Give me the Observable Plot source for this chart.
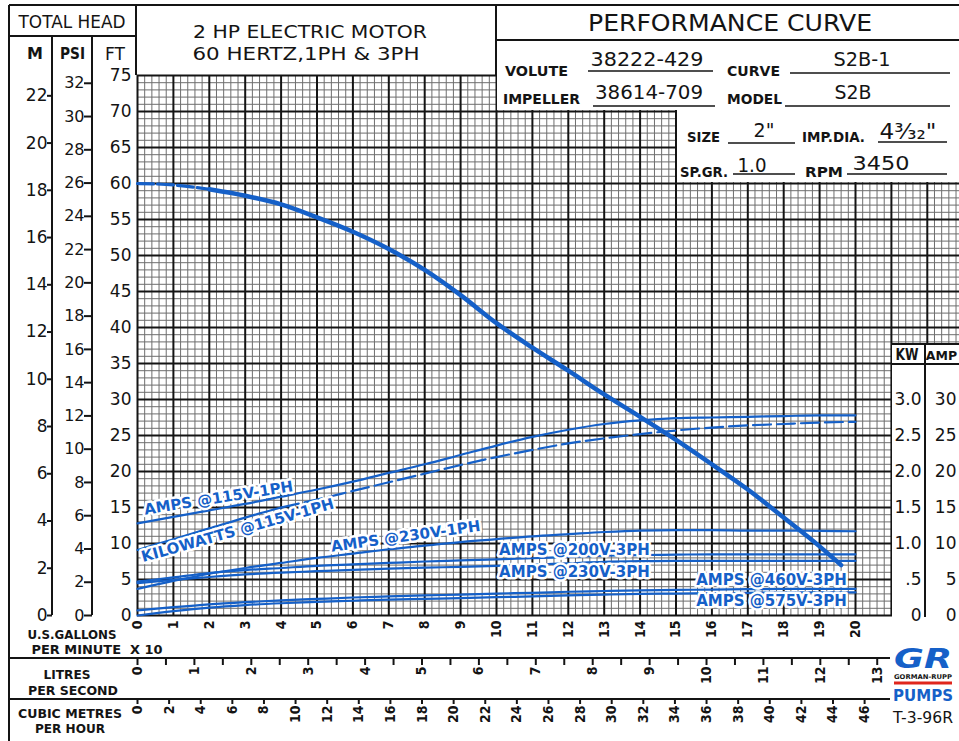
<!DOCTYPE html>
<html><head><meta charset="utf-8">
<script src="https://cdn.jsdelivr.net/npm/d3@7"></script>
<script src="https://cdn.jsdelivr.net/npm/@observablehq/plot@0.6"></script>
<style>
html,body{margin:0;padding:0;background:#fff;}
#chart{width:959px;height:741px;overflow:hidden;}
</style></head><body><div id="chart"></div>
<script>
// ---------------- data ----------------
const gpm = [0,1,2,3,4,5,6,7,8,9,10,11,12,13,14,15,16,17,18,19,20];          // U.S. gal/min x10
const headGpm = [0,1,2,3,4,5,6,7,8,9,10,11,12,13,14,15,16,17,18,19,19.6];
const headFt = [60.0,59.8,59.2,58.3,57.1,55.3,53.3,50.9,48.0,44.5,40.6,37.2,34.0,30.7,27.6,24.4,21.0,17.5,13.6,9.6,7.0];
const amps115_1ph = [12.8,13.7,14.6,15.5,16.5,17.5,18.6,19.8,21.0,22.3,23.6,24.8,25.8,26.6,27.1,27.4,27.5,27.6,27.7,27.8,27.8];
const kw115_1ph = [0.91,1.06,1.21,1.36,1.50,1.61,1.73,1.85,1.97,2.09,2.20,2.30,2.39,2.46,2.52,2.57,2.61,2.64,2.66,2.68,2.69];
const amps230_1ph = [3.7,4.8,5.8,6.6,7.3,8.0,8.6,9.2,9.7,10.2,10.6,11.0,11.3,11.6,11.8,11.85,11.85,11.8,11.8,11.75,11.7];
const amps200_3ph = [4.7,5.3,5.9,6.3,6.6,6.9,7.1,7.3,7.5,7.65,7.8,7.95,8.15,8.3,8.4,8.45,8.5,8.5,8.5,8.5,8.5];
const amps230_3ph = [4.5,4.95,5.35,5.7,5.95,6.15,6.35,6.5,6.65,6.75,6.9,7.05,7.25,7.45,7.55,7.6,7.6,7.6,7.6,7.6,7.6];
const amps460_3ph = [0.7,1.15,1.55,1.85,2.1,2.3,2.5,2.65,2.8,2.9,3.05,3.15,3.3,3.4,3.5,3.55,3.6,3.65,3.7,3.7,3.7];
const amps575_3ph = [0.0,0.6,1.1,1.45,1.7,1.9,2.05,2.2,2.3,2.4,2.55,2.65,2.8,2.9,3.0,3.05,3.1,3.15,3.2,3.2,3.2];

// tick labels
const ftTicks = [0,5,10,15,20,25,30,35,40,45,50,55,60,65,70,75];
const psiTicks = [0,2,4,6,8,10,12,14,16,18,20,22,24,26,28,30,32];
const mTicks = [0,2,4,6,8,10,12,14,16,18,20,22];
const gpmTicks = [0,1,2,3,4,5,6,7,8,9,10,11,12,13,14,15,16,17,18,19,20];
const lpsTicks = [0,0.5,1,1.5,2,2.5,3,3.5,4,4.5,5,5.5,6,6.5,7,7.5,8,8.5,9,9.5,10,10.5,11,11.5,12,12.5,13];
const m3hTicks = [0,2,4,6,8,10,12,14,16,18,20,22,24,26,28,30,32,34,36,38,40,42,44,46];
const kwTicks = [0,0.5,1,1.5,2,2.5,3];
const kwTickLabels = ["0",".5","1.0","1.5","2.0","2.5","3.0"];
const ampTicks = [0,5,10,15,20,25,30];
const curveLabels = ["AMPS @115V-1PH","KILOWATTS @115V-1PH","AMPS @230V-1PH","AMPS @200V-3PH","AMPS @230V-3PH","AMPS @460V-3PH","AMPS @575V-3PH"];

// unit conversions of the secondary scales
const FT_PER_PSI = 2.31, FT_PER_M = 3.2808, X_PER_LPS = 1.585, X_PER_M3H = 0.4403, FT_PER_KW = 10, FT_PER_AMP = 1;

// ---------------- styling / placement ----------------
const FONT = "DejaVu Sans, Liberation Sans, sans-serif";
const COND = "DejaVu Sans Condensed, DejaVu Sans, sans-serif";
const BLUE = "#1560c8";
const INK = "#141414";
const GRID_RIGHT = 22.9;

const labelPlacement = [
  {x: 2.26, y: 16.3, angle: -9},
  {x: 2.79, y: 11.8, angle: -15.7},
  {x: 7.47, y: 10.97, angle: -8},
  {x: 12.17, y: 9.03, angle: 0},
  {x: 12.17, y: 5.97, angle: 0},
  {x: 17.66, y: 4.86, angle: 0},
  {x: 17.66, y: 1.94, angle: 0}
];
const annotations = curveLabels.map((t, i) => ({text: t, ...labelPlacement[i]}));

function rows(xs, ys, k = 1) { return xs.map((x, i) => ({x, y: ys[i] * k})); }
const headRows = rows(headGpm, headFt);
const ampsRows = rows(gpm, amps115_1ph, FT_PER_AMP);
const kwRows = rows(gpm, kw115_1ph, FT_PER_KW);
const lowSeries = [amps230_1ph, amps200_3ph, amps230_3ph, amps460_3ph, amps575_3ph].map(s => rows(gpm, s, FT_PER_AMP));

const minorX = d3.range(0, 115).map(i => +(i * 0.2).toFixed(1)).filter(v => v % 1 !== 0 && v <= GRID_RIGHT);
const minorY = d3.range(0, 76).filter(v => v % 5 !== 0);
const majorX = d3.range(0, 23);
const majorY = d3.range(0, 76, 5);

const lineOpts = {x: "x", y: "y", stroke: BLUE, curve: "monotone-x"};

const chart = Plot.plot({
  width: 959, height: 741,
  marginLeft: 137, marginRight: 104, marginTop: 75, marginBottom: 126,
  x: {domain: [0, 20], label: null},
  y: {domain: [0, 75], label: null},
  style: {fontFamily: FONT, fontSize: "14px", background: "white", color: INK, overflow: "visible"},
  marks: [
    Plot.ruleX(minorX, {y1: 0, y2: 75, stroke: "#6e6e6e", strokeWidth: 1}),
    Plot.ruleY(minorY, {x1: 0, x2: GRID_RIGHT, stroke: "#6e6e6e", strokeWidth: 1}),
    Plot.ruleX(majorX, {y1: 0, y2: 75, stroke: INK, strokeWidth: 2}),
    Plot.ruleY(majorY, {x1: 0, x2: GRID_RIGHT, stroke: INK, strokeWidth: 2}),

    Plot.line(headRows.filter(d => d.x <= 2), {...lineOpts, strokeWidth: 3.2, strokeDasharray: "16,4"}),
    Plot.line(headRows.filter(d => d.x >= 2), {...lineOpts, strokeWidth: 4.5}),
    Plot.line(ampsRows, {...lineOpts, strokeWidth: 2.2}),
    Plot.line(kwRows.filter(d => d.x <= 4), {...lineOpts, strokeWidth: 2.2}),
    Plot.line(kwRows.filter(d => d.x >= 4), {...lineOpts, strokeWidth: 2.2, strokeDasharray: "18,6"}),
    ...lowSeries.map(s => Plot.line(s, {...lineOpts, strokeWidth: 2.2})),

    Plot.text(annotations, {x: "x", y: "y", text: "text", rotate: "angle", fill: BLUE, stroke: "white", strokeWidth: 5,
      paintOrder: "stroke", fontWeight: "bold", fontSize: 15, fontFamily: FONT, textAnchor: "middle", lineAnchor: "middle"}),

    // left scales
    Plot.axisY({ticks: ftTicks, anchor: "left", tickSize: 0, tickPadding: 6, fontSize: 17, label: null, tickFormat: d => String(d)}),
    Plot.axisY({ticks: psiTicks.map(p => p * FT_PER_PSI), tickFormat: d => String(Math.round(d / FT_PER_PSI)),
      anchor: "left", dx: -45, tickSize: 8, tickPadding: 0, strokeWidth: 2, fontSize: 16, label: null}),
    Plot.axisY({ticks: mTicks.map(m => m * FT_PER_M), tickFormat: d => String(Math.round(d / FT_PER_M)),
      anchor: "left", dx: -85, tickSize: 5, tickPadding: 0, strokeWidth: 2, fontSize: 17, label: null}),
    // right scales
    Plot.axisY({ticks: kwTicks.map(k => k * FT_PER_KW), tickFormat: d => kwTickLabels[kwTicks.indexOf(Math.round(d / FT_PER_KW * 2) / 2)],
      anchor: "right", tickSize: 0, tickPadding: 0, dx: 66, textAnchor: "end", fontSize: 17, label: null}),
    Plot.axisY({ticks: ampTicks.map(a => a * FT_PER_AMP), tickFormat: d => String(Math.round(d / FT_PER_AMP)),
      anchor: "right", tickSize: 0, tickPadding: 0, dx: 101, textAnchor: "end", fontSize: 17, label: null}),
    // bottom scales
    Plot.axisX({ticks: gpmTicks, anchor: "bottom", tickSize: 0, tickPadding: 5, tickRotate: -90, textAnchor: "end",
      fontSize: 14, fontWeight: "bold", fontFamily: COND, label: null, tickFormat: d => String(d)}),
    Plot.axisX({ticks: lpsTicks.map(v => v * X_PER_LPS), anchor: "bottom", dy: 43, tickSize: 7, tickPadding: 1, tickRotate: -90,
      textAnchor: "end", strokeWidth: 2, fontSize: 14, fontWeight: "bold", fontFamily: COND, label: null,
      tickFormat: d => { const v = Math.round(d / X_PER_LPS * 2) / 2; return Number.isInteger(v) ? String(v) : ""; }}),
    Plot.axisX({ticks: m3hTicks.map(v => v * X_PER_M3H), anchor: "bottom", dy: 84, tickSize: 5, tickPadding: 1, tickRotate: -90,
      textAnchor: "end", strokeWidth: 2, fontSize: 14, fontWeight: "bold", fontFamily: COND, label: null,
      tickFormat: d => String(Math.round(d / X_PER_M3H))})
  ]
});
document.getElementById("chart").appendChild(chart);

// ---------------- sheet frame & title block ----------------
const NS = "http://www.w3.org/2000/svg";
const firstLine = chart.querySelector('g[aria-label="line"]');
const gEl = document.createElementNS(NS, "g");
if (firstLine) chart.insertBefore(gEl, firstLine); else chart.appendChild(gEl);
const ov = d3.select(gEl);

function box(x, y, w, h) { ov.append("rect").attr("x", x).attr("y", y).attr("width", w).attr("height", h).attr("fill", "white"); }
function ln(x1, y1, x2, y2, w = 2) { ov.append("line").attr("x1", x1).attr("y1", y1).attr("x2", x2).attr("y2", y2).attr("stroke", INK).attr("stroke-width", w); }
function tx(x, y, s, o = {}) {
  const t = ov.append("text").attr("x", x).attr("y", y).text(s)
    .attr("text-anchor", o.anchor || "middle").attr("font-family", o.family || FONT)
    .attr("font-size", o.size || 16).attr("font-weight", o.weight || "normal")
    .attr("font-style", o.style || "normal").attr("fill", o.fill || INK);
  if (o.len) t.attr("textLength", o.len).attr("lengthAdjust", "spacingAndGlyphs");
  return t;
}

// cover the grid behind title block and the KW/AMP column
box(497, 0, 462, 110);
box(677, 0, 282, 182);
box(892, 344, 67, 397);

// outer frame
ln(9, 5, 959, 5);
ln(9, 5, 9, 741);
ln(136, 5, 136, 75);
ln(9, 36, 136, 36);
ln(52, 36, 52, 615);
ln(92, 36, 92, 615);
ln(496, 5, 496, 75);
ln(496, 40, 959, 40);
// KW/AMP column
ln(891, 344, 959, 344);
ln(891, 364, 959, 364);
ln(925, 344, 925, 617);
// bottom scale rows
ln(9, 658, 890, 658);
ln(9, 699, 890, 699);

// head column headings
tx(72, 28, "TOTAL HEAD", {size: 17, len: 107});
tx(35, 59, "M", {size: 16, weight: "bold"});
tx(72.5, 59, "PSI", {size: 16, weight: "bold", len: 25});
tx(115, 60, "FT", {size: 17, len: 20});

// title
tx(310, 38, "2 HP ELECTRIC MOTOR", {size: 18.5, len: 234});
tx(306, 60, "60 HERTZ,1PH & 3PH", {size: 18.5, len: 227});
tx(730, 31, "PERFORMANCE CURVE", {size: 23.5, len: 284});

// data block
tx(505, 76, "VOLUTE", {size: 14, weight: "bold", anchor: "start", len: 63});
tx(647, 66, "38222-429", {size: 19, len: 113});
ln(588, 71, 713, 71, 1.5);
tx(727, 76, "CURVE", {size: 14, weight: "bold", anchor: "start", len: 53});
tx(862, 66, "S2B-1", {size: 19, len: 57});
ln(790, 73, 950, 73, 1.5);

tx(503, 104, "IMPELLER", {size: 14, weight: "bold", anchor: "start", len: 77});
tx(649, 99, "38614-709", {size: 19, len: 108});
ln(593, 106, 715, 106, 1.5);
tx(727, 104, "MODEL", {size: 14, weight: "bold", anchor: "start", len: 55});
tx(853, 99, "S2B", {size: 19, len: 37});
ln(785, 106, 950, 106, 1.5);

tx(687, 142, "SIZE", {size: 14, weight: "bold", anchor: "start", len: 33});
tx(764, 137, "2\"", {size: 19});
ln(728, 143, 795, 143, 1.5);
tx(802, 142, "IMP.DIA.", {size: 14, weight: "bold", anchor: "start", len: 63});
tx(908, 139, "4³⁄₃₂\"", {size: 22, len: 57});
ln(878, 142, 947, 142, 1.5);

tx(680, 177, "SP.GR.", {size: 14, weight: "bold", anchor: "start", len: 48});
tx(752, 172, "1.0", {size: 19, len: 29});
ln(733, 174, 795, 174, 1.5);
tx(805, 177, "RPM", {size: 14, weight: "bold", anchor: "start", len: 38});
tx(881, 170, "3450", {size: 19, len: 57});
ln(847, 174, 947, 174, 1.5);

// right column headings
tx(907, 360, "KW", {size: 15, weight: "bold", len: 23});
tx(941.5, 360, "AMP", {size: 12.5, weight: "bold"});

// bottom scale titles
tx(72, 639, "U.S.GALLONS", {size: 13, weight: "bold", family: COND, len: 89});
tx(97, 654, "PER MINUTE  X 10", {size: 13, weight: "bold", family: COND, len: 131});
tx(67, 679, "LITRES", {size: 13, weight: "bold", family: COND, len: 47});
tx(73, 695, "PER SECOND", {size: 13, weight: "bold", family: COND, len: 90});
tx(70, 718, "CUBIC METRES", {size: 13, weight: "bold", family: COND, len: 104});
tx(70, 733, "PER HOUR", {size: 13, weight: "bold", family: COND, len: 70});

// maker's mark
tx(923, 668, "GR", {size: 27, weight: "bold", style: "italic", fill: BLUE, len: 58});
tx(923, 678.5, "GORMAN-RUPP", {size: 6.5, weight: "bold", len: 58});
ov.append("line").attr("x1", 894).attr("x2", 952).attr("y1", 683).attr("y2", 683).attr("stroke", "#e0261c").attr("stroke-width", 3);
tx(923, 701, "PUMPS", {size: 15, weight: "bold", fill: BLUE});
tx(923, 723, "T-3-96R", {size: 15, len: 60});
</script>
</body></html>
